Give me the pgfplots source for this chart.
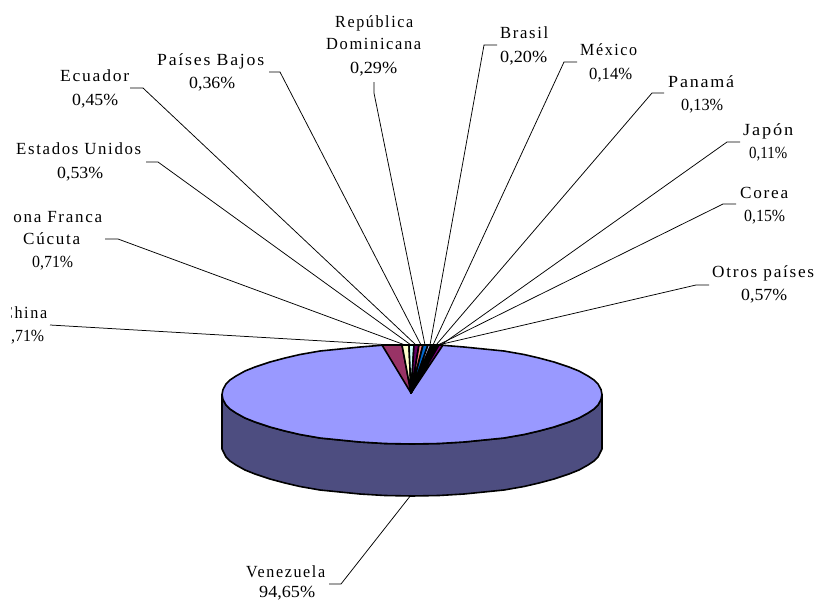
\documentclass[border=0pt]{standalone}
\usepackage{pgfplots}
\pgfplotsset{compat=1.18}
\usepackage{graphicx}
\usepackage{fontspec}
\setmainfont{Liberation Serif}

% x, baseline y, width in pixels of the reference
\newcommand{\nm}[4]{\node[anchor=base west,inner sep=0pt] at (axis cs:#1,#2) {\fontsize{17}{20}\selectfont\resizebox{#3pt}{\height}{\addfontfeature{LetterSpace=10}#4}};}
\newcommand{\pc}[4]{\node[anchor=base west,inner sep=0pt] at (axis cs:#1,#2) {\fontsize{17}{20}\selectfont\resizebox{#3pt}{\height}{#4}};}

\definecolor{pietop}{HTML}{9999FF}
\definecolor{piewall}{HTML}{4D4D80}
\definecolor{cChina}{HTML}{993366}
\definecolor{cZona}{HTML}{FFFFCC}
\definecolor{cEEUU}{HTML}{CCFFFF}
\definecolor{cEcuador}{HTML}{660066}
\definecolor{cBajos}{HTML}{FF8080}
\definecolor{cRepDom}{HTML}{0066CC}
\definecolor{cBrasil}{HTML}{CCCCFF}
\definecolor{cMexico}{HTML}{000080}
\definecolor{cPanama}{HTML}{FF00FF}
\definecolor{cJapon}{HTML}{FFFF00}
\definecolor{cCorea}{HTML}{00FFFF}
\definecolor{cOtros}{HTML}{800080}

\pgfplotsset{
  slice/.style={draw=black,line width=1.6pt,line join=round,fill=#1},
  leader/.style={draw=black,line width=0.75pt,mark=none},
}

\begin{document}
\begin{tikzpicture}
\useasboundingbox (0,0) rectangle (814pt,600pt);
\begin{axis}[
    scale only axis,
    width=814pt, height=600pt,
    xmin=0, xmax=814,
    ymin=0, ymax=600,
    y dir=reverse,
    hide axis,
    clip=false,
]
% leaders
\addplot[leader] coordinates {(50,325) (392,345)};
\addplot[leader] coordinates {(105,239) (118,239) (405,345)};
\addplot[leader] coordinates {(146,162) (158,162) (411,345)};
\addplot[leader] coordinates {(130,88) (143,88) (416,345)};
\addplot[leader] coordinates {(269,72) (280,72) (421,345)};
\addplot[leader] coordinates {(374,82) (374,93) (425,345)};
\addplot[leader] coordinates {(497,45) (484,45) (430,345)};
\addplot[leader] coordinates {(577,62) (564,62) (433,345)};
\addplot[leader] coordinates {(664,93) (652,93) (436,345)};
\addplot[leader] coordinates {(740,142) (727,142) (441,345)};
\addplot[leader] coordinates {(736,204) (723,204) (438,345)};
\addplot[leader] coordinates {(709,285) (696,285) (438,345)};
% side wall
\addplot[slice=piewall] coordinates {
  (222,394.5) (222,449) (226,457) (230,461) (236,465) (245,470) (255,474) (270,479) (285,483)
  (300,486.5) (320,490) (340,492) (360,494) (385,495.5) (412,496) (439,495.5) (464,494) (484,492)
  (504,490) (524,486.5) (539,483) (554,479) (569,474) (579,470) (588,465) (594,461) (598,457) (602,449)
  (602,394.5)
  (601,399.5) (598,405) (594,409) (588,413) (579,418) (569,422) (554,427) (539,431) (524,434.5)
  (504,438) (484,440) (464,442) (439,443.5) (412,444) (385,443.5) (360,442) (340,440) (320,438)
  (300,434.5) (285,431) (270,427) (255,422) (245,418) (236,413) (230,409) (226,405) (223,399.5)
} --cycle;
% top, Venezuela
\addplot[slice=pietop] coordinates {
  (222,394.5) (223,389.5) (226,384) (230,380) (236,376) (245,371) (255,367) (270,362) (285,358)
  (300,354.5) (320,351) (340,349) (360,347) (385,345) (439,345) (464,347) (484,349) (504,351)
  (524,354.5) (539,358) (554,362) (569,367) (579,371) (588,376) (594,380) (598,384) (601,389.5)
  (602,394.5)
  (601,399.5) (598,405) (594,409) (588,413) (579,418) (569,422) (554,427) (539,431) (524,434.5)
  (504,438) (484,440) (464,442) (439,443.5) (412,444) (385,443.5) (360,442) (340,440) (320,438)
  (300,434.5) (285,431) (270,427) (255,422) (245,418) (236,413) (230,409) (226,405) (223,399.5)
} --cycle;
% small slices
\addplot[slice=cChina] coordinates {(411,393) (382,345) (402,345)} --cycle;
\addplot[slice=cZona] coordinates {(411,393) (402,345) (409,345)} --cycle;
\addplot[slice=cEEUU] coordinates {(411,393) (409,345) (414,345)} --cycle;
\addplot[slice=cEcuador] coordinates {(411,393) (414,345) (419,345)} --cycle;
\addplot[slice=cBajos] coordinates {(411,393) (419,345) (423,345)} --cycle;
\addplot[slice=cRepDom] coordinates {(411,393) (423,345) (428,345)} --cycle;
\addplot[slice=cBrasil] coordinates {(411,393) (428,345) (431,345)} --cycle;
\addplot[slice=cMexico] coordinates {(411,393) (431,345) (433,345)} --cycle;
\addplot[slice=cPanama] coordinates {(411,393) (433,345) (435,345)} --cycle;
\addplot[slice=cJapon] coordinates {(411,393) (435,345) (437,345)} --cycle;
\addplot[slice=cCorea] coordinates {(411,393) (437,345) (439,345)} --cycle;
\addplot[slice=cOtros] coordinates {(411,393) (439,345) (443,345)} --cycle;
% Venezuela leader over the wall
\addplot[leader] coordinates {(329,584) (341,584) (411,495)};
% labels
\nm{335}{27}{78}{República}
\nm{326}{49}{95}{Dominicana}
\pc{350}{73}{47}{0,29\%}
\nm{500}{38}{48}{Brasil}
\pc{500}{62}{47}{0,20\%}
\nm{580}{55}{57}{México}
\pc{589}{79}{43}{0,14\%}
\nm{668}{87}{66}{Panamá}
\pc{681}{110}{42}{0,13\%}
\nm{743}{135}{50}{Japón}
\pc{749}{158}{38}{0,11\%}
\nm{740}{198}{48}{Corea}
\pc{744}{221}{41}{0,15\%}
\nm{712}{277}{102}{Otros países}
\pc{741}{300}{46}{0,57\%}
\nm{157}{65}{107}{Países Bajos}
\pc{189}{88}{46}{0,36\%}
\nm{60}{81}{69}{Ecuador}
\pc{72}{105}{46}{0,45\%}
\nm{16}{154}{125}{Estados Unidos}
\pc{57}{178}{46}{0,53\%}
\nm{1}{222}{101}{Zona Franca}
\nm{23}{244}{57}{Cúcuta}
\pc{32}{267}{41}{0,71\%}
\nm{2}{318}{45}{China}
\pc{3}{341}{41}{1,71\%}
\nm{246}{577}{79}{Venezuela}
\pc{259}{597}{56}{94,65\%}
% the reference is cut off at its left margin
\fill[white] (axis cs:0,200) rectangle (axis cs:11,350);
\end{axis}
\end{tikzpicture}
\end{document}
